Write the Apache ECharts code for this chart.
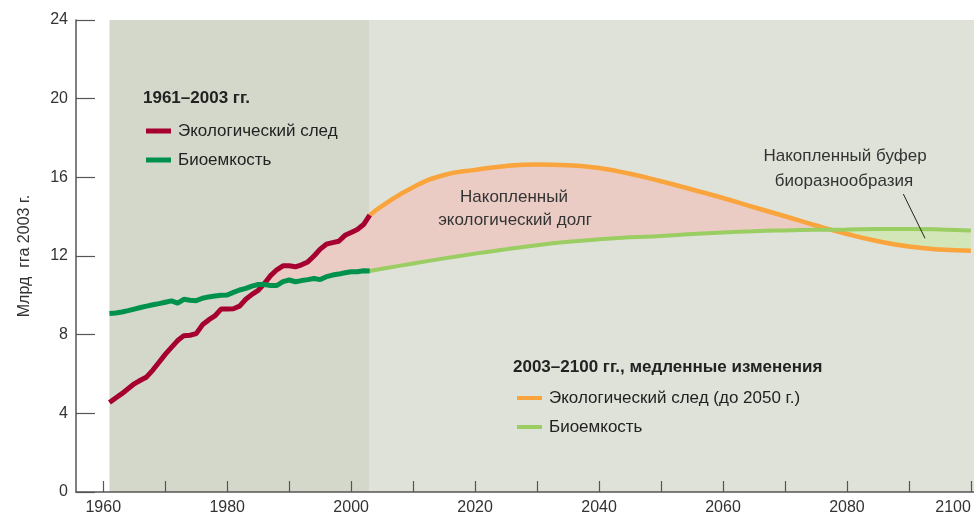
<!DOCTYPE html>
<html>
<head>
<meta charset="utf-8">
<script src="https://cdn.jsdelivr.net/npm/echarts@6/dist/echarts.min.js"></script>
<style>
  html, body { margin: 0; padding: 0; background: #fff; }
  #chart { width: 974px; height: 517px; }
</style>
</head>
<body>
<div id="chart"></div>
<script>
// 1961-2003, млрд гга
const histYears = [];
for (let y = 1961; y <= 2003; y++) histYears.push(y);
const histFootprint = [4.55, 4.78, 5.0, 5.25, 5.5, 5.68, 5.85, 6.2, 6.6, 7.0,
  7.35, 7.7, 7.95, 7.97, 8.05, 8.5, 8.75, 8.95, 9.3, 9.3,
  9.32, 9.45, 9.8, 10.05, 10.25, 10.6, 11.0, 11.3, 11.5, 11.5,
  11.45, 11.55, 11.7, 12.0, 12.35, 12.6, 12.68, 12.75, 13.05, 13.2,
  13.35, 13.6, 14.08];
const histBiocap = [9.08, 9.1, 9.15, 9.22, 9.3, 9.38, 9.45, 9.52, 9.58, 9.65,
  9.72, 9.6, 9.8, 9.75, 9.73, 9.85, 9.92, 9.97, 10.0, 10.02,
  10.15, 10.27, 10.35, 10.47, 10.55, 10.55, 10.5, 10.5, 10.7, 10.78,
  10.69, 10.75, 10.8, 10.86, 10.8, 10.95, 11.03, 11.08, 11.15, 11.2,
  11.2, 11.25, 11.24];

// 2003-2100, медленные изменения
const projYears = [2003, 2005, 2010, 2015, 2020, 2025, 2030, 2035, 2040, 2045, 2050,
  2055, 2060, 2065, 2070, 2075, 2080, 2085, 2090, 2095, 2100];
const projFootprint = [14.08, 14.55, 15.5, 16.12, 16.38, 16.58, 16.65, 16.62, 16.47, 16.18, 15.8,
  15.38, 14.95, 14.48, 14.02, 13.55, 13.12, 12.75, 12.48, 12.33, 12.27];
const projBiocap = [11.24, 11.35, 11.62, 11.88, 12.12, 12.34, 12.55, 12.72, 12.85, 12.95, 13.02,
  13.12, 13.2, 13.26, 13.3, 13.33, 13.35, 13.37, 13.37, 13.35, 13.3];

const xTickYears = [1960, 1970, 1980, 1990, 2000, 2010, 2020, 2030, 2040, 2050, 2060, 2070, 2080, 2090, 2100];
const xLabelYears = [1960, 1980, 2000, 2020, 2040, 2060, 2080, 2100];

const pair = (xs, ys) => xs.map((x, i) => [x, ys[i]]);

// regions between footprint and biocapacity
function buildFills(xs, a, b) {
  const polys = [];
  let cur = null;
  const close = () => { if (cur) { polys.push(cur); cur = null; } };
  for (let i = 0; i < xs.length; i++) {
    const d = a[i] - b[i];
    const s = d > 0 ? 1 : -1;
    if (!cur) cur = { sign: s, top: [], bot: [] };
    if (cur.sign !== s) {
      const dp = a[i - 1] - b[i - 1];
      const t = dp / (dp - d);
      const cx = xs[i - 1] + t * (xs[i] - xs[i - 1]);
      const cy = a[i - 1] + t * (a[i] - a[i - 1]);
      cur.top.push([cx, cy]); cur.bot.push([cx, cy]);
      close();
      cur = { sign: s, top: [[cx, cy]], bot: [[cx, cy]] };
    }
    cur.top.push([xs[i], a[i]]);
    cur.bot.push([xs[i], b[i]]);
  }
  close();
  return polys;
}
const allYears = histYears.concat(projYears.slice(1));
const allFp = histFootprint.concat(projFootprint.slice(1));
const allBc = histBiocap.concat(projBiocap.slice(1));
const fills = buildFills(allYears, allFp, allBc).filter(p =>
  p.sign > 0 || p.top[0][0] >= 2003);

const chart = echarts.init(document.getElementById('chart'));
const FONT = 'Liberation Sans, Arial, sans-serif';

chart.setOption({
  animation: false,
  grid: { left: 76, right: 0, top: 20, bottom: 25, outerBoundsMode: 'none', containLabel: false },
  xAxis: {
    type: 'value', min: 1955.6, max: 2100.5, z: 10,
    axisLine: { lineStyle: { color: '#555', width: 1.5 } },
    axisTick: { inside: true, length: 11, customValues: xTickYears, lineStyle: { color: '#555', width: 1.2 } },
    axisLabel: {
      customValues: xLabelYears, formatter: v => String(v), alignMaxLabel: 'right',
      color: '#333', fontSize: 16, fontFamily: FONT, margin: 8
    },
    splitLine: { show: false }
  },
  yAxis: {
    type: 'value', min: 0, max: 24, interval: 4, z: 10,
    name: 'Млрд  гга 2003 г.', nameLocation: 'middle', nameGap: 43, nameRotate: 90,
    nameTextStyle: { color: '#333', fontSize: 16, fontFamily: FONT },
    axisLine: { show: true, lineStyle: { color: '#555', width: 1.5 } },
    axisTick: { show: true, inside: true, length: 19, lineStyle: { color: '#555', width: 1.2 } },
    axisLabel: { color: '#333', fontSize: 16, fontFamily: FONT, margin: 8 },
    splitLine: { show: false }
  },
  legend: [
    {
      left: 146, top: 122, orient: 'vertical', icon: 'rect', padding: 0,
      itemWidth: 25, itemHeight: 5, itemGap: 11,
      textStyle: { color: '#222', fontSize: 17, fontFamily: FONT, lineHeight: 18, padding: [0, 0, 0, 2] },
      data: ['Экологический след', 'Биоемкость']
    },
    {
      left: 517, top: 389, orient: 'vertical', icon: 'rect', padding: 0,
      itemWidth: 25, itemHeight: 4, itemGap: 11,
      textStyle: { color: '#222', fontSize: 17, fontFamily: FONT, lineHeight: 18, padding: [0, 0, 0, 2] },
      data: ['Экологический след (до 2050 г.)', { name: 'Биоемкость', itemStyle: { color: '#9acd62' } }]
    }
  ],
  graphic: [
    { type: 'text', x: 143, y: 98, z: 10, style: { text: '1961–2003 гг.', fontSize: 17, fontWeight: 'bold', fontFamily: FONT, fill: '#222', verticalAlign: 'middle' } },
    { type: 'text', x: 513, y: 367, z: 10, style: { text: '2003–2100 гг., медленные изменения', fontSize: 17, fontWeight: 'bold', fontFamily: FONT, fill: '#222', verticalAlign: 'middle' } },
    { type: 'text', x: 514, y: 197, z: 10, style: { text: 'Накопленный', fontSize: 17, fontFamily: FONT, fill: '#333', align: 'center', verticalAlign: 'middle' } },
    { type: 'text', x: 515, y: 220, z: 10, style: { text: 'экологический долг', fontSize: 17, fontFamily: FONT, fill: '#333', align: 'center', verticalAlign: 'middle' } },
    { type: 'text', x: 845, y: 156, z: 10, style: { text: 'Накопленный буфер', fontSize: 17, fontFamily: FONT, fill: '#333', align: 'center', verticalAlign: 'middle' } },
    { type: 'text', x: 844, y: 181, z: 10, style: { text: 'биоразнообразия', fontSize: 17, fontFamily: FONT, fill: '#333', align: 'center', verticalAlign: 'middle' } }
  ],
  series: [
    {
      // background periods
      type: 'line', data: [], z: -1, silent: true,
      markArea: {
        silent: true,
        data: [
          [{ coord: [1961, 0], itemStyle: { color: '#d4d8cb' } }, { coord: [2003, 24] }],
          [{ coord: [2003, 0], itemStyle: { color: '#dfe2d9' } }, { coord: [2100.5, 24] }]
        ]
      }
    },
    {
      type: 'custom', z: 1, silent: true,
      data: [[2000, 10]],
      renderItem: function (params, api) {
        return {
          type: 'group',
          children: fills.map(p => ({
            type: 'polygon',
            shape: { points: p.top.concat(p.bot.slice().reverse()).map(pt => api.coord(pt)) },
            style: { fill: p.sign > 0 ? '#ebccc5' : '#d2e6b8' }
          }))
        };
      }
    },
    {
      name: 'Экологический след', type: 'line', z: 3, symbol: 'none',
      color: '#a5002f', itemStyle: { color: '#a5002f' },
      lineStyle: { color: '#a5002f', width: 5 },
      data: pair(histYears, histFootprint)
    },
    {
      name: 'Биоемкость', type: 'line', z: 3, symbol: 'none',
      color: '#00924c', itemStyle: { color: '#00924c' },
      lineStyle: { color: '#00924c', width: 5 },
      data: pair(histYears, histBiocap)
    },
    {
      name: 'Экологический след (до 2050 г.)', type: 'line', z: 2, symbol: 'none', smooth: true,
      color: '#f9a43c', itemStyle: { color: '#f9a43c' },
      lineStyle: { color: '#f9a43c', width: 4.5 },
      data: pair(projYears, projFootprint),
      markLine: {
        silent: true, symbol: 'none', animation: false,
        label: { show: false },
        lineStyle: { color: '#222', width: 1, type: 'solid' },
        data: [[{ coord: [2089.1, 15.15] }, { coord: [2092.6, 12.9] }]]
      }
    },
    {
      name: 'Биоемкость', type: 'line', z: 2, symbol: 'none', smooth: true,
      color: '#9acd62', itemStyle: { color: '#9acd62' },
      lineStyle: { color: '#9acd62', width: 4 },
      data: pair(projYears, projBiocap)
    }
  ]
});
</script>
</body>
</html>
